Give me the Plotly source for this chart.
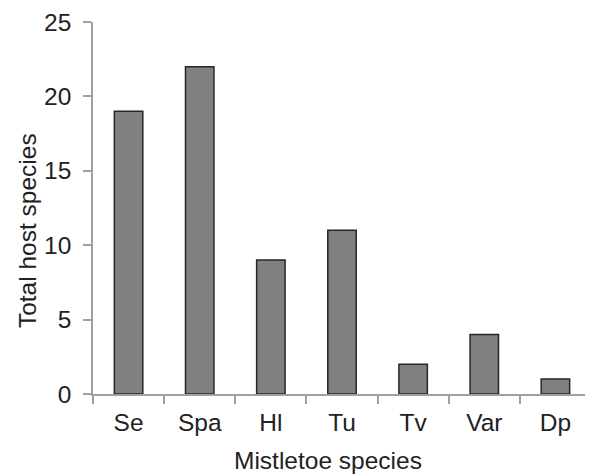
import plotly.graph_objects as go

categories = ["Se", "Spa", "Hl", "Tu", "Tv", "Var", "Dp"]
host_counts = [19, 22, 9, 11, 2, 4, 1]
y_ticks = [0, 5, 10, 15, 20, 25]
x_title = "Mistletoe species"
y_title = "Total host species"

fig = go.Figure(go.Bar(
    x=categories, y=host_counts,
    marker=dict(color="#808080", line=dict(color="#262626", width=1.5)),
    width=0.4,
))

font = "Liberation Sans, Arial, sans-serif"
fs = 24.5
fig.update_layout(
    width=585, height=467,
    margin=dict(l=85, r=2, t=14, b=81, autoexpand=False),
    plot_bgcolor="white", paper_bgcolor="white",
    showlegend=False,
    font=dict(family=font, size=fs, color="#222222"),
)
fig.update_xaxes(
    type="category", range=[-0.5, 6.5], automargin=False,
    showline=True, linecolor="#a0a0a0", linewidth=1.5,
    ticks="outside", ticklen=8, tickcolor="#a0a0a0", tickwidth=1.5,
    tickson="boundaries", showgrid=False, zeroline=False,
    tickfont=dict(size=fs), ticklabelstandoff=6,
)
fig.update_yaxes(
    range=[0, 25], tickvals=y_ticks, automargin=False,
    showline=True, linecolor="#a0a0a0", linewidth=1.5,
    ticks="outside", ticklen=8, tickcolor="#a0a0a0", tickwidth=1.5,
    showgrid=False, zeroline=False,
    tickfont=dict(size=fs), ticklabelstandoff=7,
)
fig.add_annotation(text=x_title, xref="paper", yref="paper", x=0.471, y=-0.180,
                   xanchor="center", yanchor="middle", showarrow=False,
                   font=dict(size=fs))
fig.add_annotation(text=y_title, xref="paper", yref="paper", x=-0.1325, y=0.438,
                   xanchor="center", yanchor="middle", showarrow=False,
                   textangle=-90, font=dict(size=fs))
fig.write_html("out.html")
